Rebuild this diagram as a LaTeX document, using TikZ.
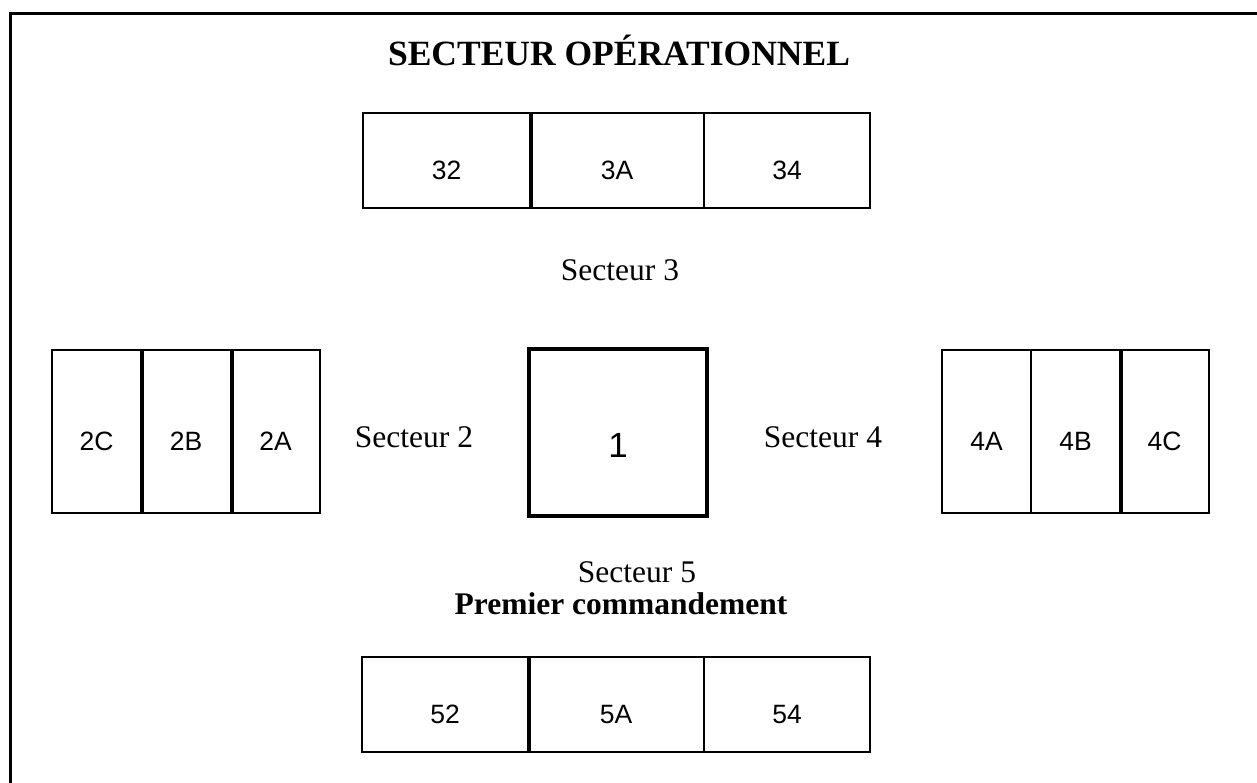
\documentclass[tikz,border=0pt]{standalone}
\usepackage{fontspec}
\setmainfont{Liberation Serif}
\newfontfamily\arialf{Liberation Sans}
\tikzset{
  cell/.style={draw, line width=2pt, inner sep=0pt, text height=37pt, text depth=0pt, font=\arialf\fontsize{26.5}{31}\selectfont},
  bigcell/.style={draw, line width=3.5pt, inner sep=0pt, text height=50pt, text depth=0pt, font=\arialf\fontsize{35}{40}\selectfont},
  sect/.style={inner sep=0pt, font=\fontsize{31.5}{36}\selectfont},
  heavy/.style={line width=3.2pt},
  frameline/.style={line width=3pt}
}
\begin{document}
\begin{tikzpicture}[x=1pt,y=-1pt]
\useasboundingbox (0,0) rectangle (1257,782);
% frame
\coordinate (fbl) at (10,790);
\coordinate (ftl) at (10,13);
\coordinate (ftr) at (1265,13);
\draw[frameline] (fbl) -- (ftl) -- (ftr);
% title
\node[inner sep=0pt, font=\bfseries\fontsize{35.5}{40}\selectfont] (title) at (619,50) {SECTEUR OPÉRATIONNEL};
% top row
\node[cell, minimum width=167pt, minimum height=95pt] (c32) at (446.5,160.5) {32};
\node[cell, minimum width=174pt, minimum height=95pt] (c3A) at (617,160.5) {3A};
\node[cell, minimum width=166pt, minimum height=95pt] (c34) at (787,160.5) {34};
\draw[heavy] (c32.north east) -- (c32.south east);
\node[sect] (s3) at (620,270) {Secteur 3};
% left group
\node[cell, minimum width=89pt, minimum height=163pt] (c2C) at (96.5,431.5) {2C};
\node[cell, minimum width=90pt, minimum height=163pt] (c2B) at (186,431.5) {2B};
\node[cell, minimum width=89pt, minimum height=163pt] (c2A) at (275.5,431.5) {2A};
\draw[heavy] (c2C.north east) -- (c2C.south east);
\draw[heavy] (c2B.north east) -- (c2B.south east);
\node[sect] (s2) at (414,437) {Secteur 2};
% center
\node[bigcell, minimum width=178pt, minimum height=167pt] (c1) at (618,432.5) {1};
% right group
\node[sect] (s4) at (823,437) {Secteur 4};
\node[cell, minimum width=89pt, minimum height=163pt] (c4A) at (986.5,431.5) {4A};
\node[cell, minimum width=89pt, minimum height=163pt] (c4B) at (1075.5,431.5) {4B};
\node[cell, minimum width=89pt, minimum height=163pt] (c4C) at (1164.5,431.5) {4C};
\draw[heavy] (c4B.north east) -- (c4B.south east);
% bottom
\node[sect] (s5) at (637,572) {Secteur 5};
\node[sect, font=\bfseries\fontsize{31.5}{36}\selectfont] (pc) at (621,604) {Premier commandement};
\node[cell, minimum width=166pt, minimum height=95pt] (c52) at (445,704.5) {52};
\node[cell, minimum width=176pt, minimum height=95pt] (c5A) at (616,704.5) {5A};
\node[cell, minimum width=166pt, minimum height=95pt] (c54) at (787,704.5) {54};
\draw[heavy] (c52.north east) -- (c52.south east);
\end{tikzpicture}
\end{document}
